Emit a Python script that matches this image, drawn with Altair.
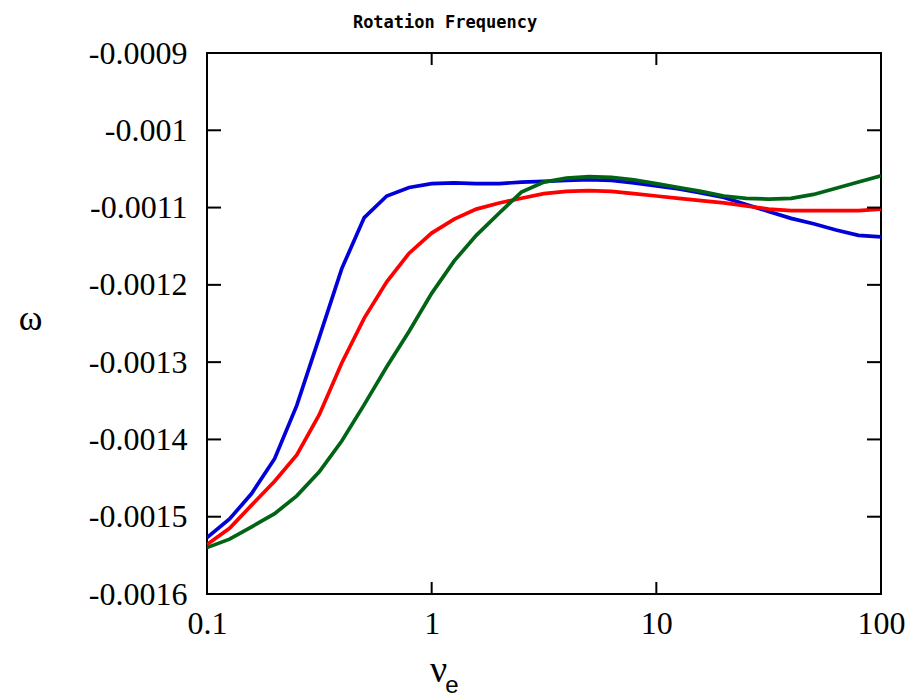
import altair as alt
import pandas as pd

# x positions (nu_e), log-spaced
nu_e = [0.1, 0.126, 0.158, 0.2, 0.251, 0.316, 0.398, 0.501, 0.631, 0.794,
        1.0, 1.26, 1.58, 2.0, 2.51, 3.16, 3.98, 5.01, 6.31, 7.94,
        10.0, 12.6, 15.8, 20.0, 25.1, 31.6, 39.8, 50.1, 63.1, 79.4, 100.0]

# omega values in units of 1e-4
blue = [-15.27, -15.03, -14.70, -14.25, -13.56, -12.68, -11.79, -11.13, -10.85, -10.74,
        -10.69, -10.68, -10.69, -10.69, -10.67, -10.66, -10.65, -10.64, -10.65, -10.68,
        -10.72, -10.76, -10.81, -10.87, -10.96, -11.05, -11.14, -11.21, -11.29, -11.36, -11.38]
red = [-15.36, -15.15, -14.85, -14.54, -14.20, -13.68, -13.01, -12.43, -11.96, -11.59,
       -11.33, -11.15, -11.02, -10.94, -10.88, -10.82, -10.79, -10.78, -10.79, -10.82,
       -10.85, -10.88, -10.91, -10.94, -10.98, -11.02, -11.04, -11.04, -11.04, -11.04, -11.02]
green = [-15.40, -15.29, -15.13, -14.96, -14.73, -14.42, -14.02, -13.55, -13.06, -12.60,
         -12.11, -11.69, -11.36, -11.07, -10.80, -10.67, -10.62, -10.60, -10.61, -10.64,
         -10.69, -10.74, -10.79, -10.85, -10.88, -10.89, -10.88, -10.83, -10.75, -10.67, -10.59]

series_names = ["blue", "red", "green"]
series_colors = ["#0000d8", "#ff0000", "#006414"]

y_ticks = [-0.0016, -0.0015, -0.0014, -0.0013, -0.0012, -0.0011, -0.001, -0.0009]
x_ticks = [0.1, 1, 10, 100]

rows = []
for name, vals in zip(series_names, [blue, red, green]):
    for xv, yv in zip(nu_e, vals):
        rows.append({"nu": xv, "omega": yv * 1e-4, "series": name})
df = pd.DataFrame(rows)

W, H = 674, 541

xscale = alt.Scale(type="log", domain=[0.1, 100], nice=False)
yscale = alt.Scale(domain=[-0.0016, -0.0009], nice=False, zero=False)

xaxis = alt.Axis(values=x_ticks, labelExpr="format(datum.value, '')",
                 ticks=False, domain=False, grid=False, labelFlush=False,
                 labelFont="Liberation Serif", labelFontSize=32,
                 labelColor="black", labelPadding=14,
                 title="ν", titleFont="Liberation Serif", titleFontSize=38,
                 titleFontWeight="normal", titleColor="black",
                 titleX=231, titleY=76, titleBaseline="middle", titleAlign="center")
yaxis = alt.Axis(values=y_ticks,
                 labelExpr="'-' + format(-datum.value, '')",
                 ticks=False, domain=False, grid=False, labelFlush=False,
                 labelFont="Liberation Serif", labelFontSize=32,
                 labelColor="black", labelPadding=20,
                 title="ω", titleFont="Liberation Serif", titleFontSize=36,
                 titleFontWeight="normal", titleColor="black",
                 titleAngle=0, titleX=-177, titleY=265,
                 titleBaseline="middle", titleAlign="center")

lines = alt.Chart(df).mark_line(strokeWidth=3.7, clip=True).encode(
    x=alt.X("nu:Q", scale=xscale, axis=xaxis),
    y=alt.Y("omega:Q", scale=yscale, axis=yaxis),
    color=alt.Color("series:N", scale=alt.Scale(domain=series_names, range=series_colors), legend=None),
    detail="series:N",
)

ydf = pd.DataFrame({"nu": [1.0] * (len(y_ticks) - 2), "omega": y_ticks[1:-1]})
xdf = pd.DataFrame({"nu": x_ticks[1:-1], "omega": [-0.0012] * (len(x_ticks) - 2)})

ytick_left = alt.Chart(ydf).mark_rule(color="black", strokeWidth=2).encode(
    y=alt.Y("omega:Q", scale=yscale, axis=yaxis), x=alt.value(0), x2=alt.value(14))
ytick_right = alt.Chart(ydf).mark_rule(color="black", strokeWidth=2).encode(
    y=alt.Y("omega:Q", scale=yscale, axis=yaxis), x=alt.value(W - 14), x2=alt.value(W))
xtick_bottom = alt.Chart(xdf).mark_rule(color="black", strokeWidth=2).encode(
    x=alt.X("nu:Q", scale=xscale, axis=xaxis), y=alt.value(H - 12), y2=alt.value(H))
xtick_top = alt.Chart(xdf).mark_rule(color="black", strokeWidth=2).encode(
    x=alt.X("nu:Q", scale=xscale, axis=xaxis), y=alt.value(0), y2=alt.value(12))

one = pd.DataFrame({"t": ["Rotation Frequency"]})
title_txt = alt.Chart(one).mark_text(
    font="DejaVu Sans Mono", fontSize=17, fontWeight="bold", color="black",
    align="center", baseline="alphabetic").encode(
    x=alt.value(238), y=alt.value(-25), text="t:N")

sub = pd.DataFrame({"t": ["e"]})
sub_txt = alt.Chart(sub).mark_text(
    font="Liberation Sans", fontSize=24, color="black",
    align="center", baseline="middle").encode(
    x=alt.value(245), y=alt.value(633), text="t:N")

chart = alt.layer(lines, ytick_left, ytick_right, xtick_bottom, xtick_top, title_txt, sub_txt).properties(
    width=W, height=H,
    autosize=alt.AutoSizeParams(type="none"),
    padding={"left": 207, "top": 53, "right": 41, "bottom": 103},
    background="white",
).configure_view(stroke="black", strokeWidth=2)

chart.save("out.html", embed_options={"renderer": "svg", "actions": False})
